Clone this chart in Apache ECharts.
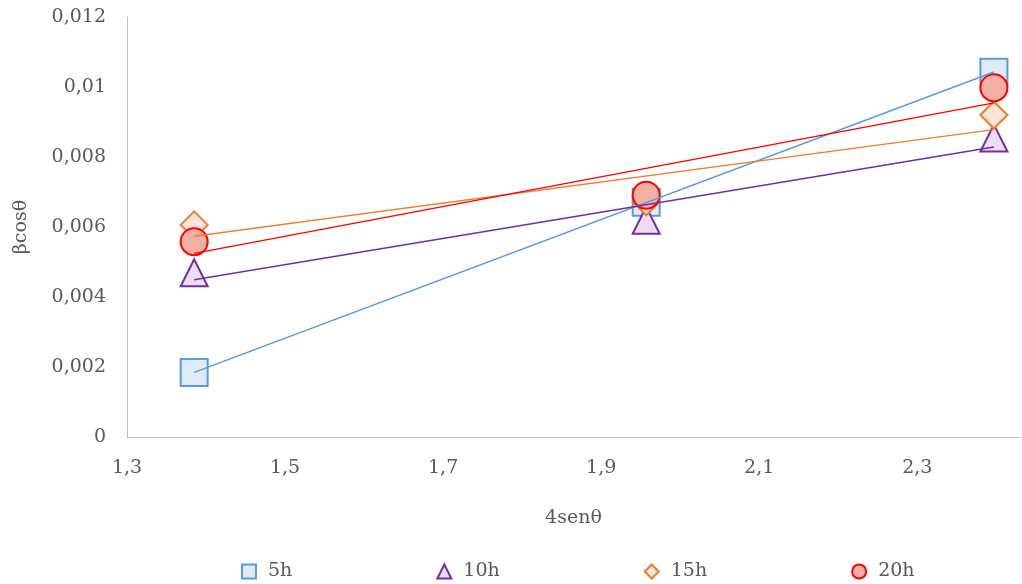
<!DOCTYPE html>
<html>
<head>
<meta charset="utf-8">
<script src="https://cdn.jsdelivr.net/npm/echarts@6/dist/echarts.min.js"></script>
<style>html,body{margin:0;padding:0;background:#fff;}#c{width:1022px;height:584px;}</style>
</head>
<body>
<div id="c"></div>
<script>
// Data
const xValues = [1.385, 1.957, 2.397];
const seriesNames = ['5h', '10h', '15h', '20h'];
const s5h  = [0.00184, 0.00671, 0.01042];
const s10h = [0.00469, 0.00619, 0.00854];
const s15h = [0.00606, 0.00672, 0.00920];
const s20h = [0.00558, 0.00691, 0.00998];
const yTicks = [0, 0.002, 0.004, 0.006, 0.008, 0.01, 0.012];

const values = [s5h, s10h, s15h, s20h];
const symbols = ['rect', 'triangle', 'diamond', 'circle'];
const borderColors = ['#5B9BD5', '#7030A0', '#ED7D31', '#FF0000'];
const fillColors = ['#DEEBF7', '#EBDEF4', '#FCE4D6', '#F2B0A2'];

function linReg(xs, ys) {
  const n = xs.length;
  const mx = xs.reduce((a, b) => a + b, 0) / n;
  const my = ys.reduce((a, b) => a + b, 0) / n;
  let sxy = 0, sxx = 0;
  for (let i = 0; i < n; i++) { sxy += (xs[i] - mx) * (ys[i] - my); sxx += (xs[i] - mx) * (xs[i] - mx); }
  const b = sxy / sxx, a = my - b * mx;
  return [[xs[0], a + b * xs[0]], [xs[n - 1], a + b * xs[n - 1]]];
}

const FONT = 'DejaVu Serif';
const TXT = '#595959';
const fmt = v => (v === 0 ? '0' : String(+v.toFixed(4)).replace('.', ','));

const series = [];
values.forEach((ys, i) => {
  series.push({
    name: seriesNames[i],
    type: 'scatter',
    symbol: symbols[i],
    symbolSize: 27,
    z: 2 + i,
    itemStyle: { color: fillColors[i], borderColor: borderColors[i], borderWidth: 2, opacity: 1 },
    data: xValues.map((x, k) => [x, ys[k]])
  });
});
values.forEach((ys, i) => {
  series.push({
    name: seriesNames[i] + ' trend',
    type: 'line',
    symbol: 'none',
    z: 10,
    silent: true,
    lineStyle: { color: borderColors[i], width: 1.5 },
    data: linReg(xValues, ys)
  });
});

const chart = echarts.init(document.getElementById('c'), null, { renderer: 'canvas' });
chart.setOption({
  animation: false,
  backgroundColor: '#fff',
  textStyle: { fontFamily: FONT },
  grid: { left: 127, right: 2, top: 17, bottom: 147, containLabel: false },
  xAxis: {
    type: 'value', min: 1.3, max: 2.43, interval: 0.2,
    name: '4senθ', nameLocation: 'middle', nameGap: 72,
    nameTextStyle: { color: TXT, fontSize: 19, fontFamily: FONT },
    axisLine: { show: true, lineStyle: { color: '#BFBFBF', width: 1 } },
    axisTick: { show: false },
    splitLine: { show: false },
    axisLabel: { color: TXT, fontSize: 19, fontFamily: FONT, margin: 22, showMaxLabel: false,
      formatter: v => String(+v.toFixed(2)).replace('.', ',') }
  },
  yAxis: {
    type: 'value', min: yTicks[0], max: yTicks[yTicks.length - 1], interval: 0.002,
    name: 'βcosθ', nameLocation: 'middle', nameGap: 96,
    nameTextStyle: { color: TXT, fontSize: 19, fontFamily: FONT },
    axisLine: { show: true, lineStyle: { color: '#BFBFBF', width: 1 } },
    axisTick: { show: false },
    splitLine: { show: false },
    axisLabel: { color: TXT, fontSize: 19, fontFamily: FONT, margin: 21, formatter: fmt }
  },
  legend: {
    data: seriesNames.map((n, i) => ({ name: n, icon: symbols[i] })),
    top: 557, left: 236,
    itemWidth: 14, itemHeight: 14, itemGap: 144,
    textStyle: { color: TXT, fontSize: 19, fontFamily: FONT, padding: [0, 0, 0, 7] }
  },
  series: series
});
</script>
</body>
</html>
